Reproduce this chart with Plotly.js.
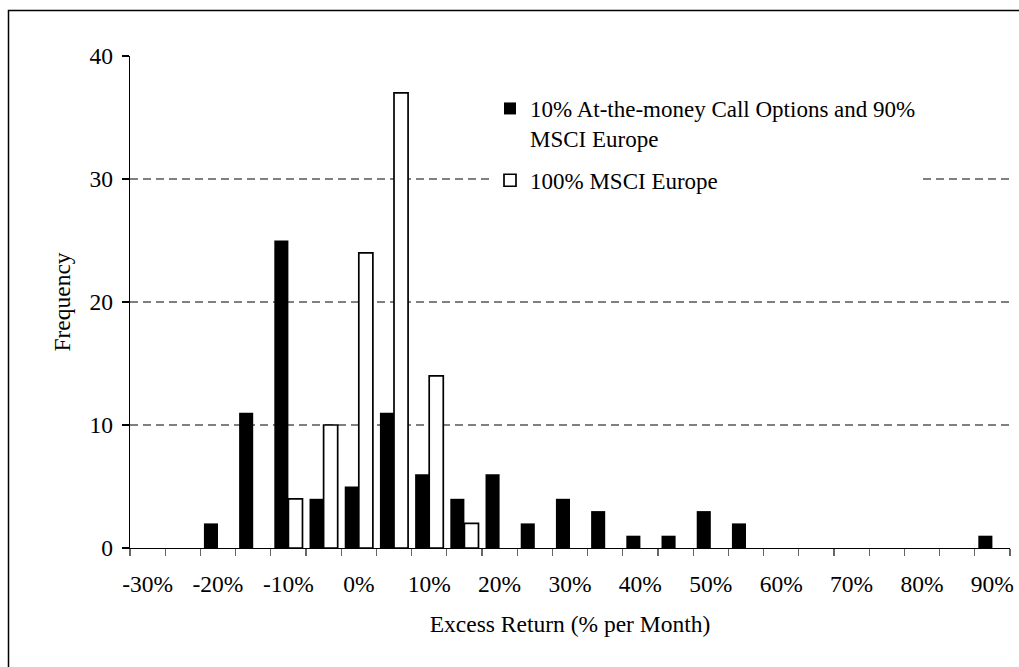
<!DOCTYPE html>
<html>
<head>
<meta charset="utf-8">
<script src="https://cdn.plot.ly/plotly-3.0.1.min.js"></script>
<style>
  html, body { margin: 0; padding: 0; background: #ffffff; }
  #chart { width: 1019px; height: 667px; }
</style>
</head>
<body>
<div id="chart"></div>
<script>
// Bin centres (% excess return per month)
var bins = [-30, -25, -20, -15, -10, -5, 0, 5, 10, 15, 20, 25, 30, 35, 40, 45, 50, 55, 60, 65, 70, 75, 80, 85, 90];
// Frequencies
var callOptions = [0, 0, 2, 11, 25, 4, 5, 11, 6, 4, 6, 2, 4, 3, 1, 1, 3, 2, 0, 0, 0, 0, 0, 0, 1];
var msciEurope  = [0, 0, 0, 0, 4, 10, 24, 37, 14, 2, 0, 0, 0, 0, 0, 0, 0, 0, 0, 0, 0, 0, 0, 0, 0];
// Axis labels
var xTickVals = [-30, -20, -10, 0, 10, 20, 30, 40, 50, 60, 70, 80, 90];
var xTickText = ['-30%', '-20%', '-10%', '0%', '10%', '20%', '30%', '40%', '50%', '60%', '70%', '80%', '90%'];
var seriesNames = ['10% At-the-money Call Options and 90%<br>MSCI Europe', '100% MSCI Europe'];

var FONT = 'Liberation Serif';
var FS = 23.5;

// empty bins are not drawn (no outline on the baseline)
function hideEmpty(vals) { return vals.map(function (v) { return v === 0 ? null : v; }); }

var traces = [
  {
    type: 'bar', x: bins, y: hideEmpty(callOptions), name: seriesNames[0], legendgroup: 'a',
    marker: { color: '#000000', line: { color: '#000000', width: 0 } },
    hoverinfo: 'x+y'
  },
  {
    type: 'bar', x: bins, y: hideEmpty(msciEurope), name: seriesNames[1], legendgroup: 'b',
    marker: { color: '#ffffff', line: { color: '#000000', width: 1.7 } },
    hoverinfo: 'x+y'
  }
];

var L = 130, R = 9, T = 56, B = 119, W = 1019, H = 667;
var pw = W - L - R, ph = H - T - B;
function px(x) { return (x - L) / pw; }
function py(y) { return (H - B - y) / ph; }

var layout = {
  width: W, height: H,
  margin: { l: L, r: R, t: T, b: B, pad: 0 },
  paper_bgcolor: '#ffffff', plot_bgcolor: '#ffffff',
  font: { family: FONT, size: FS, color: '#000000' },
  barmode: 'group', bargap: 0.2, bargroupgap: 0,
  showlegend: true,
  legend: {
    x: px(490), y: py(87), xanchor: 'left', yanchor: 'top',
    bgcolor: '#ffffff', borderwidth: 0,
    font: { family: FONT, size: 23, color: '#000000' },
    valign: 'top', traceorder: 'grouped', tracegroupgap: 9
  },
  xaxis: {
    type: 'linear', range: [-32.5, 92.5], fixedrange: true,
    tickmode: 'array', tickvals: xTickVals, ticktext: xTickText,
    ticks: '', showgrid: false, zeroline: false,
    showline: true, linecolor: '#000000', linewidth: 1.3,
    ticklabelstandoff: 14,
    tickfont: { family: FONT, size: FS, color: '#000000' },
    minor: { tick0: -32.5, dtick: 5, ticks: 'outside', ticklen: 7, tickcolor: '#666666', tickwidth: 1.3, showgrid: false },
    title: { text: 'Excess Return (% per Month)', font: { family: FONT, size: FS, color: '#000000' }, standoff: 20 }
  },
  yaxis: {
    range: [0, 40], dtick: 10, tick0: 0, fixedrange: true,
    ticks: 'outside', ticklen: 7, tickcolor: '#000000', tickwidth: 1.3,
    showline: true, linecolor: '#000000', linewidth: 1.3,
    showgrid: true, gridcolor: '#808080', gridwidth: 1.2, griddash: '8px,5px',
    zeroline: false, ticklabelstandoff: 4,
    tickfont: { family: FONT, size: FS, color: '#000000' },
    title: { text: 'Frequency', font: { family: FONT, size: FS, color: '#000000' }, standoff: 12 }
  },
  shapes: [
    { type: 'rect', xref: 'paper', yref: 'paper', x0: px(8.5), x1: px(1040), y0: py(10.5), y1: py(700),
      line: { color: '#000000', width: 1.5 }, fillcolor: 'rgba(0,0,0,0)', layer: 'below' }
  ]
};

Plotly.newPlot('chart', traces, layout, { displayModeBar: false, staticPlot: true });
</script>
</body>
</html>
